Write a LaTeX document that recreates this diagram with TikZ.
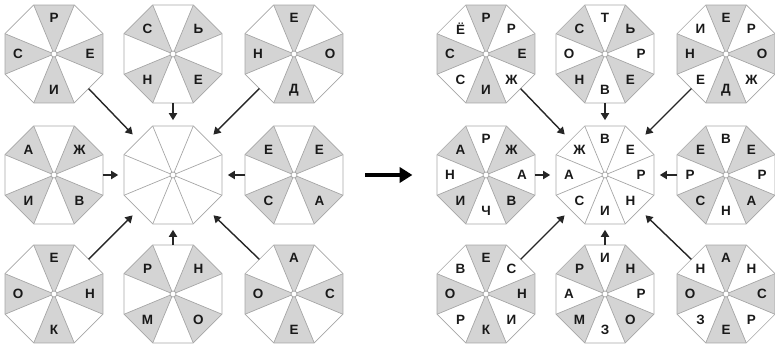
\documentclass[tikz,border=0pt]{standalone}
\usepackage{fontspec}
\setmainfont{Liberation Sans}
\usetikzlibrary{arrows.meta,shapes.geometric,calc}

\begin{document}
\begin{tikzpicture}[x=0.03cm,y=0.03cm,
  every node/.style={font=\bfseries\fontsize{11.5}{12}\selectfont},
  octo/.style={regular polygon,regular polygon sides=8,minimum size=3.18cm,
    inner sep=0pt,outer sep=0pt,draw=gray!70,line width=0.6pt},
  sect/.style={fill=black!17},
  spoke/.style={draw=gray!70,line width=0.6pt},
  hub/.style={circle,draw=gray!70,fill=white,line width=0.6pt,
    minimum size=0.18cm,inner sep=0pt},
  lt/.style={inner sep=0pt,text=black!90},
  arr/.style={-{Triangle[length=6pt,width=7pt]},line width=1.2pt,black!85},
  big/.style={-{Triangle[length=11pt,width=13pt]},line width=3.4pt,black}]
 \useasboundingbox (0,0) rectangle (775,347);
 % two panels, same layout, right one shifted
 \foreach \p/\dx in {L/0,R/432}
  \foreach \c/\x/\y/\k in {11/54/293/A,12/173/293/B,13/294/293/A,
                          21/54/172/B,22/173/172/N,23/294/172/B,
                          31/54/53/A,32/173/53/B,33/294/53/A}{
   \coordinate (o) at (\x+\dx,\y);
   \if\k A\foreach \a in {0,90,180,270}
     {\fill[sect] (o) -- +(\a-22.5:53) -- +(\a+22.5:53) -- cycle;}\fi
   \if\k B\foreach \a in {45,135,225,315}
     {\fill[sect] (o) -- +(\a-22.5:53) -- +(\a+22.5:53) -- cycle;}\fi
   \foreach \a in {22.5,67.5,...,337.5}
     \draw[spoke] (o) -- +(\a:53);
   \node[octo] (\p\c) at (o) {};
   \node[hub] (\p\c-c) at (o) {};
  }
 % letters
 \foreach \n/\s in {
   L11/{90/Р,0/Е,270/И,180/С},
   L12/{135/С,45/Ь,225/Н,315/Е},
   L13/{90/Е,0/О,270/Д,180/Н},
   L21/{135/А,45/Ж,225/И,315/В},
   L23/{135/Е,45/Е,225/С,315/А},
   L31/{90/Е,0/Н,270/К,180/О},
   L32/{135/Р,45/Н,225/М,315/О},
   L33/{90/А,0/С,270/Е,180/О},
   R11/{90/Р,45/Р,0/Е,315/Ж,270/И,225/С,180/С,135/Ё},
   R12/{90/Т,45/Ь,0/Р,315/Е,270/В,225/Н,180/О,135/С},
   R13/{90/Е,45/Р,0/О,315/Ж,270/Д,225/Е,180/Н,135/И},
   R21/{90/Р,45/Ж,0/А,315/В,270/Ч,225/И,180/Н,135/А},
   R22/{90/В,45/Е,0/Р,315/Н,270/И,225/С,180/А,135/Ж},
   R23/{90/В,45/Е,0/Р,315/А,270/Н,225/С,180/Р,135/Е},
   R31/{90/Е,45/С,0/Н,315/И,270/К,225/Р,180/О,135/В},
   R32/{90/И,45/Н,0/Р,315/О,270/З,225/М,180/А,135/Р},
   R33/{90/А,45/Н,0/С,315/Р,270/Е,225/З,180/О,135/Н}}
   \foreach \a/\l in \s
     \node[lt] (\n-\a) at ($(\n)+(\a:36)$) {\l};
 % arrows into the middle octagon
 \foreach \p in {L,R}{
   \foreach \a/\b in {12.270/22.90,21.0/22.180,23.180/22.0,32.90/22.270}
     \draw[arr,shorten >=5pt] (\p\a) -- (\p\b);
   \foreach \a/\b in {11.315/22.135,13.225/22.45,31.45/22.225,33.135/22.315}
     \draw[arr,shorten >=7pt] (\p\a) -- (\p\b);
 }
 \draw[big,shorten <=19pt,shorten >=21pt] (L23.0) -- (R21.180);
\end{tikzpicture}
\end{document}
